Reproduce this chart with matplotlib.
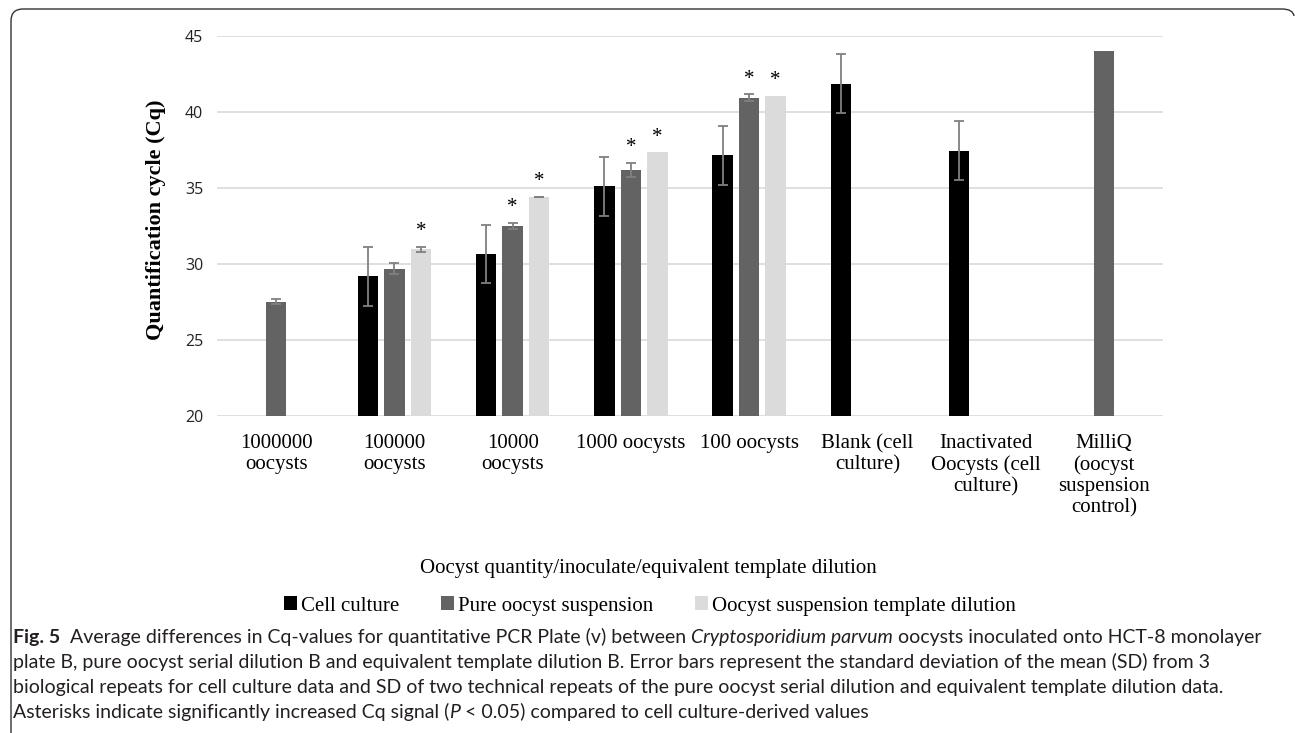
import numpy as np
import matplotlib
matplotlib.use("Agg")
import matplotlib.pyplot as plt
from matplotlib.patches import Patch
from matplotlib.path import Path
from matplotlib.patches import PathPatch

# data
categories = ["1000000\noocysts", "100000\noocysts", "10000\noocysts", "1000 oocysts",
              "100 oocysts", "Blank (cell\nculture)", "Inactivated\nOocysts (cell\nculture)",
              "MilliQ\n(oocyst\nsuspension\ncontrol)"]
series_names = ["Cell culture", "Pure oocyst suspension", "Oocyst suspension template dilution"]

cell_culture = [np.nan, 29.17, 30.62, 35.09, 37.13, 41.84, 37.43, np.nan]
cell_sd = [0, 1.93, 1.92, 1.92, 1.93, 1.95, 1.93, 0]
pure_susp = [27.5, 29.67, 32.48, 36.18, 40.92, np.nan, np.nan, 44.0]
pure_sd = [0.15, 0.38, 0.2, 0.45, 0.23, 0, 0, 0]
template_dil = [np.nan, 30.95, 34.39, 37.33, 41.05, np.nan, np.nan, np.nan]
template_sd = [0, 0.17, 0.03, 0, 0, 0, 0, 0]

# significance markers (*)
sig_pure = [False, False, True, True, True, False, False, False]
sig_template = [False, True, True, True, True, False, False, False]

yticks = [20, 25, 30, 35, 40, 45]

W, H = 1295, 733
fig = plt.figure(figsize=(W / 100, H / 100), dpi=100)
ax = fig.add_axes([217 / W, 1 - 415.7 / H, (1163 - 217) / W, (415.7 - 35.7) / H])

colors = ["#000000", "#636363", "#dadbda"]
values = [cell_culture, pure_susp, template_dil]
sds = [cell_sd, pure_sd, template_sd]
sigs = [None, sig_pure, sig_template]
offsets = [-0.224, 0.0, 0.224]
bw = 0.173
x = np.arange(len(categories))

for k in range(3):
    v = np.array(values[k], dtype=float)
    sd = np.array(sds[k], dtype=float)
    ok = ~np.isnan(v)
    ax.bar(x[ok] + offsets[k], v[ok], width=bw, color=colors[k], zorder=2)
    e = ok & (sd > 0)
    ax.errorbar(x[e] + offsets[k], v[e], yerr=sd[e], fmt="none", ecolor="#808080",
                elinewidth=1.3, capsize=3.6, capthick=1.3, zorder=3)
    if sigs[k] is not None:
        for i in range(len(categories)):
            if sigs[k][i]:
                ax.annotate("*", (x[i] + offsets[k], v[i] + sd[i]), xytext=(0, 4),
                            textcoords="offset points", ha="center", va="bottom",
                            fontsize=15, family="Liberation Serif")

ax.set_xlim(-0.5, len(categories) - 0.5)
ax.set_ylim(20, 45)
ax.set_yticks(yticks)
ax.yaxis.grid(True, color="#d9d9d9", lw=1.2, zorder=0)
ax.set_axisbelow(True)
for s in ax.spines.values():
    s.set_visible(False)
ax.tick_params(length=0, pad=10)
ax.set_xticks(x)
ax.set_xticklabels(categories, family="Liberation Serif", fontsize=15, va="top",
                   linespacing=1.15)
for lab in ax.get_yticklabels():
    lab.set_family("Open Sans")
    lab.set_fontsize(11.5)
    lab.set_color("#222222")
ax.tick_params(axis="x", pad=13)

fig.text(156 / W, 1 - 220 / H, "Quantification cycle (Cq)", rotation=90, ha="center",
         va="center", family="Liberation Serif", fontweight="bold", fontsize=16)
fig.text(648 / W, 1 - 569 / H, "Oocyst quantity/inoculate/equivalent template dilution",
         ha="center", va="center", family="Liberation Serif", fontsize=15)

handles = [Patch(facecolor=c, edgecolor="none") for c in colors]
fig.legend(handles, series_names, loc="center", bbox_to_anchor=(650 / W, 1 - 606 / H),
           ncol=3, frameon=False, prop={"family": "Liberation Serif", "size": 15},
           handlelength=0.62, handleheight=0.62, handletextpad=0.2, columnspacing=2.0)

# overlay for frame and caption, in pixel coordinates
ov = fig.add_axes([0, 0, 1, 1], zorder=-1)
ov.set_xlim(0, W)
ov.set_ylim(H, 0)
ov.axis("off")

verts = [(11, H + 5), (11, 21), (11, 9), (23, 9), (1282, 9), (1293, 9), (1294, 16)]
codes = [Path.MOVETO, Path.LINETO, Path.CURVE3, Path.CURVE3, Path.LINETO, Path.CURVE3, Path.CURVE3]
ov.add_patch(PathPatch(Path(verts, codes), fill=False, edgecolor="#333333", lw=1.0))

renderer = fig.canvas.get_renderer()
cap_font = "Lato"
cap_size = 14.0


def run_width(s, **kw):
    t1 = ov.text(0, 0, s + "l", **kw)
    t2 = ov.text(0, 0, "l", **kw)
    w = t1.get_window_extent(renderer).width - t2.get_window_extent(renderer).width
    t1.remove()
    t2.remove()
    return w


def draw_runs(x0, y0, runs):
    xx = x0
    for s, style, weight in runs:
        kw = dict(family=cap_font, fontsize=cap_size, fontstyle=style, fontweight=weight,
                  color="#231f20")
        ov.text(xx, y0, s, ha="left", va="baseline", **kw)
        xx += run_width(s, **kw)


caption = [
    [("Fig. 5", "normal", "bold"),
     ("  Average differences in Cq-values for quantitative PCR Plate (v) between ", "normal", "normal"),
     ("Cryptosporidium parvum", "italic", "normal"),
     (" oocysts inoculated onto HCT-8 monolayer", "normal", "normal")],
    [("plate B, pure oocyst serial dilution B and equivalent template dilution B. Error bars "
      "represent the standard deviation of the mean (SD) from 3", "normal", "normal")],
    [("biological repeats for cell culture data and SD of two technical repeats of the pure "
      "oocyst serial dilution and equivalent template dilution data.", "normal", "normal")],
    [("Asterisks indicate significantly increased Cq signal (", "normal", "normal"),
     ("P", "italic", "normal"),
     (" < 0.05) compared to cell culture-derived values", "normal", "normal")],
]
for j, line in enumerate(caption):
    draw_runs(13, 643 + 25 * j, line)

fig.savefig("out.png", dpi=100)
